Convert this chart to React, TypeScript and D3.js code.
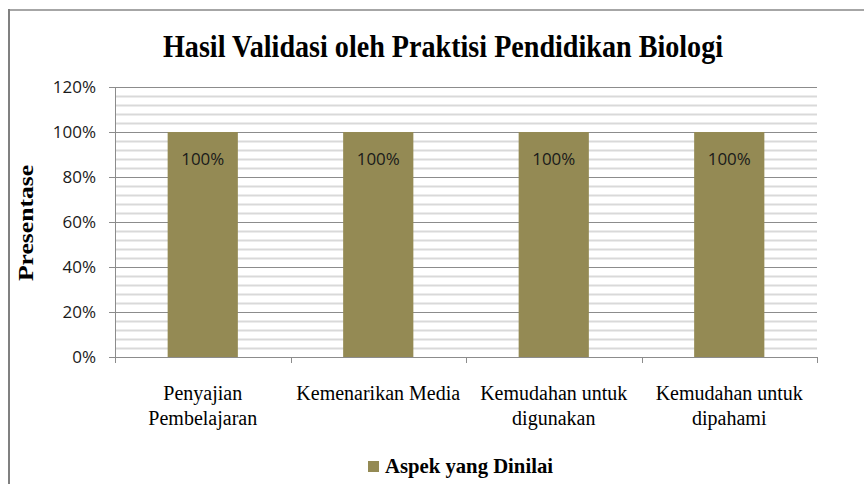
import React from "react";
import * as d3 from "d3";

const categories: string[][] = [
  ["Penyajian", "Pembelajaran"],
  ["Kemenarikan Media"],
  ["Kemudahan untuk", "digunakan"],
  ["Kemudahan untuk", "dipahami"],
];
const values: number[] = [1, 1, 1, 1];
const yTicks: number[] = [0, 0.2, 0.4, 0.6, 0.8, 1.0, 1.2];
const minorStep = 0.04;
const seriesName = "Aspek yang Dinilai";
const title = "Hasil Validasi oleh Praktisi Pendidikan Biologi";
const yTitle = "Presentase";

const W = 864;
const H = 484;
const plot = { left: 115, right: 817, top: 87, bottom: 357 };
const barColor = "#948A54";
const serif = "'Liberation Serif', 'Times New Roman', serif";
const sans = "'Open Sans', 'Liberation Sans', sans-serif";

export default function App() {
  const x = d3
    .scaleBand<number>()
    .domain(categories.map((_, i) => i))
    .range([plot.left, plot.right])
    .paddingInner(0.6)
    .paddingOuter(0.3);
  const band = (plot.right - plot.left) / categories.length;
  const y = d3.scaleLinear().domain([0, 1.2]).range([plot.bottom, plot.top]);
  const minor = d3.range(0, 1.2 + 1e-9, minorStep).filter(
    (v) => !yTicks.some((t) => Math.abs(t - v) < 1e-6)
  );
  const fmt = d3.format(".0%");

  return (
    <svg
      width={W}
      height={H}
      style={{ position: "absolute", left: 0, top: 0, background: "#fff" }}
    >
      <rect x={0} y={0} width={W} height={H} fill="#fff" />
      {/* frame */}
      <line x1={8} x2={W} y1={10} y2={10} stroke="#a6a6a6" strokeWidth={2} />
      <line x1={9} x2={9} y1={9} y2={H} stroke="#808080" strokeWidth={2} />

      {/* minor gridlines */}
      {minor.map((v) => (
        <line
          key={"m" + v}
          x1={plot.left}
          x2={plot.right}
          y1={Math.round(y(v)) + 0.5}
          y2={Math.round(y(v)) + 0.5}
          stroke="#d9d9d9"
          strokeWidth={2}
        />
      ))}
      {/* major gridlines */}
      {yTicks.map((v) => (
        <line
          key={"M" + v}
          x1={plot.left - 6}
          x2={plot.right}
          y1={Math.round(y(v)) + 0.5}
          y2={Math.round(y(v)) + 0.5}
          stroke="#8c8c8c"
          strokeWidth={1}
        />
      ))}
      {/* y axis line */}
      <line
        x1={plot.left + 0.5}
        x2={plot.left + 0.5}
        y1={plot.top}
        y2={plot.bottom + 6}
        stroke="#8c8c8c"
      />
      {/* x ticks */}
      {d3.range(categories.length + 1).map((i) => (
        <line
          key={"xt" + i}
          x1={Math.round(plot.left + i * band) + 0.5}
          x2={Math.round(plot.left + i * band) + 0.5}
          y1={plot.bottom}
          y2={plot.bottom + 6}
          stroke="#8c8c8c"
        />
      ))}

      {/* bars */}
      {values.map((v, i) => (
        <rect
          key={"b" + i}
          x={x(i)}
          y={y(v)}
          width={x.bandwidth()}
          height={y(0) - y(v)}
          fill={barColor}
        />
      ))}
      {values.map((v, i) => (
        <text
          key={"l" + i}
          x={(x(i) as number) + x.bandwidth() / 2}
          y={y(v) + 33}
          textAnchor="middle"
          fontFamily={sans}
          fontSize={16}
          textLength={43}
          lengthAdjust="spacingAndGlyphs"
          fill="#1a1a1a"
        >
          {fmt(v)}
        </text>
      ))}

      {/* y tick labels */}
      {yTicks.map((v) => (
        <text
          key={"yl" + v}
          x={96}
          y={y(v) + 6}
          textAnchor="end"
          fontFamily={sans}
          fontSize={17}
          fill="#1a1a1a"
        >
          {fmt(v)}
        </text>
      ))}

      {/* category labels */}
      {categories.map((lines, i) => (
        <text
          key={"c" + i}
          textAnchor="middle"
          fontFamily={serif}
          fontSize={20}
          fill="#000"
        >
          {lines.map((ln, j) => (
            <tspan key={j} x={plot.left + band * (i + 0.5)} y={400 + j * 25}>
              {ln}
            </tspan>
          ))}
        </text>
      ))}

      {/* title */}
      <text
        x={443}
        y={57}
        textAnchor="middle"
        fontFamily={serif}
        fontWeight="bold"
        fontSize={31}
        textLength={560}
        lengthAdjust="spacingAndGlyphs"
        fill="#000"
      >
        {title}
      </text>

      {/* y title */}
      <text
        transform="translate(33,223) rotate(-90)"
        textAnchor="middle"
        fontFamily={serif}
        fontWeight="bold"
        fontSize={22}
        textLength={116}
        lengthAdjust="spacingAndGlyphs"
        fill="#000"
      >
        {yTitle}
      </text>

      {/* legend */}
      <rect x={368} y={461} width={11} height={11} fill={barColor} />
      <text
        x={385}
        y={473}
        fontFamily={serif}
        fontWeight="bold"
        fontSize={21}
        textLength={168}
        lengthAdjust="spacingAndGlyphs"
        fill="#000"
      >
        {seriesName}
      </text>
    </svg>
  );
}
